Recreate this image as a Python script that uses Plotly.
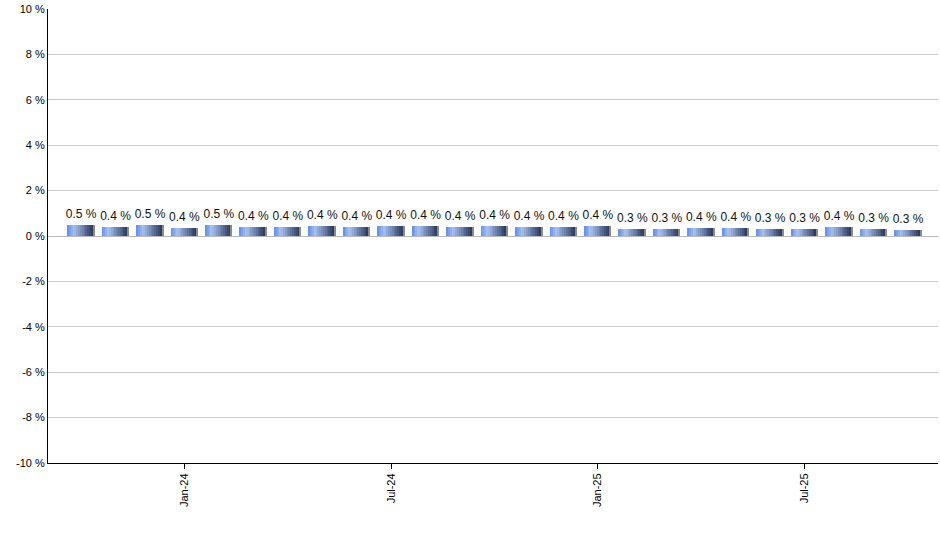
import plotly.graph_objects as go

# monthly values, Oct-23 .. Oct-25
months = [
    "Oct-23", "Nov-23", "Dec-23", "Jan-24", "Feb-24", "Mar-24", "Apr-24",
    "May-24", "Jun-24", "Jul-24", "Aug-24", "Sep-24", "Oct-24", "Nov-24",
    "Dec-24", "Jan-25", "Feb-25", "Mar-25", "Apr-25", "May-25", "Jun-25",
    "Jul-25", "Aug-25", "Sep-25", "Oct-25",
]
values = [
    0.50, 0.40, 0.50, 0.36, 0.50, 0.40, 0.40, 0.44, 0.40, 0.44, 0.44, 0.40,
    0.44, 0.40, 0.40, 0.44, 0.31, 0.31, 0.36, 0.36, 0.31, 0.31, 0.40, 0.31,
    0.27,
]
labels = [f"{v:.1f} %" for v in values]

x_ticks = ["Jan-24", "Jul-24", "Jan-25", "Jul-25"]
y_ticks = list(range(-10, 11, 2))
y_ticktext = [f"{v} %" for v in y_ticks]


def mix(c1, c2, t):
    return "#" + "".join(f"{round(a + (b - a) * t):02x}" for a, b in zip(c1, c2))


# fake a horizontal gradient with thin overlaid bar slices
light = (168, 194, 244)
mid = (104, 148, 230)
dark = (46, 62, 100)
n_slices = 14
bar_w = 0.74
slice_w = bar_w / n_slices
start = -0.39

fig = go.Figure()
for i in range(n_slices):
    t = i / (n_slices - 1)
    if t < 0.25:
        col = mix(mid, light, t / 0.25)
    else:
        col = mix(light, dark, (t - 0.25) / 0.75)
    fig.add_trace(go.Bar(
        x=months, y=values,
        width=slice_w * 1.05, offset=start + i * slice_w,
        marker=dict(color=col, line=dict(width=0)),
        hoverinfo="skip", showlegend=False,
    ))

# grey shadow on the right edge
fig.add_trace(go.Bar(
    x=months, y=values,
    width=0.04, offset=start + bar_w,
    marker=dict(color="#8a8a8a", line=dict(width=0)),
    hoverinfo="skip", showlegend=False,
))

# value labels (invisible marker just pushes the text up a bit)
fig.add_trace(go.Scatter(
    x=months, y=values, mode="markers+text",
    marker=dict(size=5, opacity=0),
    text=labels, textposition="top center",
    textfont=dict(size=12, color="#111111"),
    hoverinfo="skip", showlegend=False,
))

fig.update_layout(
    width=940, height=550,
    margin=dict(l=48, r=2, t=9, b=87, autoexpand=False),
    barmode="overlay",
    bargap=0,
    plot_bgcolor="white",
    paper_bgcolor="white",
    font=dict(family="Liberation Sans, Arial", size=11, color="#000000"),
)
fig.update_xaxes(
    type="category",
    categoryorder="array", categoryarray=months,
    range=[-0.96, 24.87],
    tickvals=x_ticks, ticktext=x_ticks,
    tickangle=-90,
    ticks="outside", ticklen=5, tickcolor="#000000",
    showline=True, linecolor="#000000", linewidth=1,
    showgrid=False, automargin=False,
)
fig.update_yaxes(
    range=[-10, 10],
    tickvals=y_ticks, ticktext=y_ticktext,
    showline=True, linecolor="#000000", linewidth=1,
    showgrid=True, gridcolor="#c8c8c8", gridwidth=1,
    zeroline=True, zerolinecolor="#b8b8b8", zerolinewidth=1,
    ticks="", ticklen=0, automargin=False,
)

# drop the default body margin so the figure sits at the window's corner
fig.write_html(
    "out.html",
    config={"displayModeBar": False},
    post_script="document.body.style.margin = '0';",
)
